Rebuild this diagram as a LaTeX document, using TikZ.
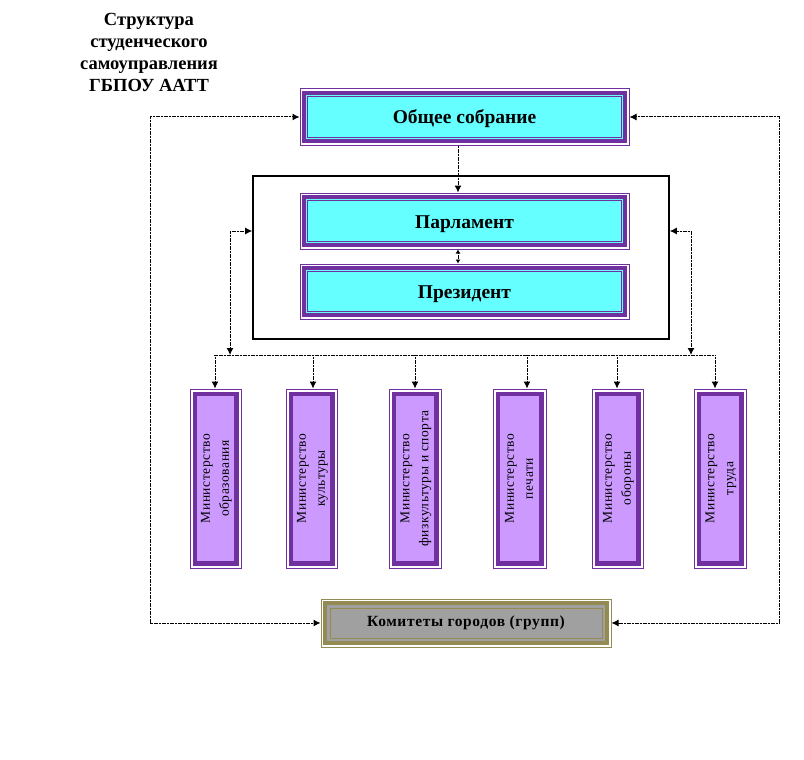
\documentclass[tikz,border=0pt]{standalone}
\usepackage{fontspec}
\setmainfont{Liberation Serif}
\usetikzlibrary{arrows.meta}
\definecolor{pur}{HTML}{7030A0}
\definecolor{cy}{HTML}{66FFFF}
\definecolor{lav}{HTML}{CC99FF}
\definecolor{gr}{HTML}{A0A0A0}
\definecolor{ol}{HTML}{948A54}
\tikzset{
  conn/.style={black, line width=1pt, dash pattern=on 1.2pt off 0.4pt, arrows={-}},
  tip/.style={-{Latex[length=7pt,width=7pt]}},
  tips/.style={{Latex[length=7pt,width=7pt]}-{Latex[length=7pt,width=7pt]}},
  smalltips/.style={{Latex[length=4pt,width=5pt]}-{Latex[length=4pt,width=5pt]}},
}
% name, x1, y1, x2, y2, text
\newcommand\cyanbox[6]{%
  \fill[white] (#2,#3) rectangle (#4,#5);
  \fill[pur] (#2+2,#3+2) rectangle (#4-2,#5-2);
  \fill[cy] (#2+6,#3+6) rectangle (#4-6,#5-6);
  \draw[pur, line width=1pt] (#2+7.5,#3+7.5) rectangle (#4-7.5,#5-7.5);
  \node[draw=pur, line width=1pt, inner sep=0, minimum width={#4-#2}, minimum height={#5-#3},
        text height=18pt, text depth=4pt,
        font=\bfseries\fontsize{19.5}{22}\selectfont] (#1) at ({(#2+#4)/2},{(#3+#5)/2}) {#6};
}
% name, x1, x2, text
\newcommand\minbox[4]{%
  \fill[white] (#2,389) rectangle (#3,568);
  \fill[pur] (#2+2.5,391.5) rectangle (#3-2.5,565.5);
  \fill[lav] (#2+7,396) rectangle (#3-7,561);
  \node[draw=pur, line width=1pt, inner sep=0, minimum width={#3-#2}, minimum height=179]
     (#1) at ({(#2+#3)/2},478.5)
     {\rotatebox{90}{\fontsize{13.5}{19}\selectfont\addfontfeatures{LetterSpace=4}\begin{tabular}{@{}c@{}}#4\end{tabular}}};
}
\begin{document}
\begin{tikzpicture}[x=1pt,y=-1pt]
\useasboundingbox (0,0) rectangle (804,760);

% title
\node[align=center, font=\bfseries\fontsize{18.5}{22}\selectfont] (title) at (149,52)
  {Структура\\студенческого\\самоуправления\\ГБПОУ ААТТ};

% container
\node[draw, line width=1.6pt, inner sep=0, minimum width=416, minimum height=163] (cont) at (461,257.5) {};

\cyanbox{gen}{300}{89}{629}{145}{Общее собрание}
\cyanbox{parl}{300}{193}{629}{249}{Парламент}
\cyanbox{pres}{300}{264}{629}{319}{Президент}

\minbox{m1}{190}{241}{Министерство\\образования}
\minbox{m2}{286}{337}{Министерство\\культуры}
\minbox{m3}{389}{441}{Министерство\\физкультуры и спорта}
\minbox{m4}{493}{546}{Министерство\\печати}
\minbox{m5}{592}{643}{Министерство\\обороны}
\minbox{m6}{694}{746}{Министерство\\труда}

% committees
\fill[white] (321,599) rectangle (611,647);
\fill[ol] (323,601) rectangle (609,645);
\fill[gr] (327,605) rectangle (605,641);
\draw[ol, line width=1pt] (330,608) rectangle (602,638);
\node[draw=ol, line width=1pt, inner sep=0, minimum width=290, minimum height=48,
      font=\bfseries\fontsize{15.5}{17}\selectfont\addfontfeatures{LetterSpace=4}] (com) at (466,623)
  {Комитеты городов (групп)};

% coordinates
\coordinate (lx) at (150,0);
\coordinate (rx) at (779,0);
\coordinate (yA) at (0,231);
\coordinate (bl) at (230,355);
\coordinate (br) at (691,355);
\coordinate (busL) at (214,355);
\coordinate (busR) at (716,355);
\coordinate (d1) at (215,355);
\coordinate (d2) at (313,355);
\coordinate (d3) at (415,355);
\coordinate (d4) at (527,355);
\coordinate (d5) at (617,355);
\coordinate (d6) at (715,355);
\coordinate (gx) at (458,0);

% connectors
\draw[conn,tip] (gen.south -| gx) -- (parl.north -| gx);
\draw[conn,smalltips] (parl.south -| gx) -- (pres.north -| gx);
\draw[conn,tips] (cont.west |- yA) -| (bl);
\draw[conn,tips] (cont.east |- yA) -| (br);
\draw[conn] (busL) -- (busR);
\draw[conn,tip] (d1) -- (d1 |- m1.north);
\draw[conn,tip] (d2) -- (d2 |- m2.north);
\draw[conn,tip] (d3) -- (d3 |- m3.north);
\draw[conn,tip] (d4) -- (d4 |- m4.north);
\draw[conn,tip] (d5) -- (d5 |- m5.north);
\draw[conn,tip] (d6) -- (d6 |- m6.north);
\draw[conn,tips] (gen.west) -- (gen.west -| lx) -- (com.west -| lx) -- (com.west);
\draw[conn,tips] (gen.east) -- (gen.east -| rx) -- (com.east -| rx) -- (com.east);
\end{tikzpicture}
\end{document}
